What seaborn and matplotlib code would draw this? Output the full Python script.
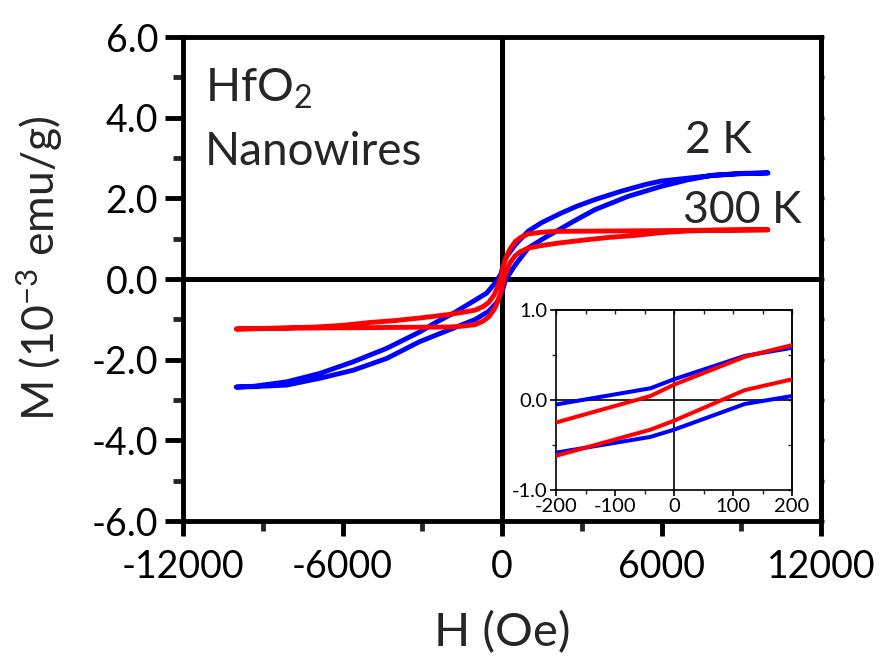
import matplotlib
matplotlib.use("Agg")
import matplotlib.pyplot as plt
import seaborn as sns
import pandas as pd
from matplotlib.ticker import MultipleLocator, FixedLocator, NullFormatter

# ---------------- data ----------------
# 2 K loop (blue): descending branch, then ascending branch
H_2K_down = [10000, 9000, 8000, 7260, 6000, 5380, 4500, 3500, 2800, 2245, 1500, 990, 500, 200, 120, 0,
             -40, -200, -577, -1000, -1830, -2500, -3085, -4340, -5590, -6850, -8100, -9350, -10000]
M_2K_down = [2.63, 2.61, 2.57, 2.52, 2.43, 2.34, 2.18, 1.97, 1.80, 1.64, 1.40, 1.19, 0.85, 0.58, 0.49, 0.23,
             0.13, -0.05, -0.35, -0.52, -0.85, -1.08, -1.31, -1.72, -2.05, -2.34, -2.55, -2.66, -2.68]
H_2K_up = [-10000, -9350, -8100, -6850, -5590, -4340, -3085, -1830, -1000, -500, -200, -40, 0,
           120, 200, 500, 990, 1600, 2245, 2800, 3500, 4750, 6010, 7000, 7890, 9000, 10000]
M_2K_up = [-2.68, -2.67, -2.63, -2.46, -2.26, -1.97, -1.55, -1.22, -1.00, -0.80, -0.585, -0.41, -0.33,
           -0.044, 0.044, 0.35, 0.77, 1.02, 1.26, 1.47, 1.72, 2.05, 2.30, 2.46, 2.57, 2.62, 2.63]

# 300 K loop (red)
H_300K_down = [10000, 8000, 6000, 4000, 2000, 1500, 1000, 700, 500, 300, 200, 120, 0, -40, -200, -300,
               -500, -700, -1000, -1500, -2000, -3000, -4000, -5000, -6000, -7000, -8000, -10000]
M_300K_down = [1.22, 1.21, 1.20, 1.19, 1.18, 1.16, 1.12, 1.03, 0.93, 0.74, 0.61, 0.48, 0.17, 0.044, -0.25, -0.40,
               -0.58, -0.68, -0.77, -0.83, -0.88, -0.96, -1.03, -1.08, -1.15, -1.19, -1.21, -1.24]
H_300K_up = [-10000, -8000, -6000, -4000, -2000, -1500, -1000, -700, -500, -300, -200, -40, 0, 120, 200, 300,
             500, 700, 1000, 1500, 2000, 3000, 4000, 5000, 6000, 7000, 8000, 10000]
M_300K_up = [-1.24, -1.22, -1.21, -1.20, -1.19, -1.17, -1.13, -1.04, -0.94, -0.76, -0.62, -0.33, -0.23, 0.11, 0.23, 0.40,
             0.58, 0.68, 0.77, 0.83, 0.88, 0.96, 1.03, 1.08, 1.15, 1.19, 1.21, 1.22]

main_xticks = [-12000, -6000, 0, 6000, 12000]
main_yticks = [-6.0, -4.0, -2.0, 0.0, 2.0, 4.0, 6.0]
inset_xticks = [-200, -100, 0, 100, 200]
inset_yticks = [-1.0, 0.0, 1.0]

# ---------------- style ----------------
sns.set_style("ticks")
FONT = "Lato"
plt.rcParams["font.family"] = [FONT, "DejaVu Sans"]
plt.rcParams["mathtext.fontset"] = "custom"
plt.rcParams["mathtext.rm"] = FONT
plt.rcParams["mathtext.it"] = FONT
plt.rcParams["axes.unicode_minus"] = False

loops = [
    (H_2K_down + H_2K_up, M_2K_down + M_2K_up, "#0000ff"),
    (H_300K_down + H_300K_up, M_300K_down + M_300K_up, "#ff0000"),
]

fig = plt.figure(figsize=(8.83, 6.67), dpi=100)
ax = fig.add_axes([183 / 883, 1 - 521 / 667, (821 - 183) / 883, (521 - 37) / 667])

ax.axhline(0, color="black", lw=3.6, zorder=1)
ax.axvline(0, color="black", lw=3.6, zorder=1)
for h, m, c in loops:
    df = pd.DataFrame({"H": h, "M": m})
    sns.lineplot(data=df, x="H", y="M", sort=False, estimator=None, color=c, lw=3.5, ax=ax, zorder=3)

ax.set_xlim(-12000, 12000)
ax.set_ylim(-6, 6)
ax.xaxis.set_major_locator(FixedLocator(main_xticks))
ax.xaxis.set_minor_locator(MultipleLocator(3000))
ax.yaxis.set_major_locator(FixedLocator(main_yticks))
ax.yaxis.set_minor_locator(MultipleLocator(1.0))
ax.set_xticklabels([f"{v:d}" for v in main_xticks])
ax.set_yticklabels([f"{v:.1f}" for v in main_yticks])
for s in ax.spines.values():
    s.set_linewidth(3.5)
    s.set_color("black")
ax.tick_params(axis="both", which="major", length=13, width=3.5, labelsize=27, colors="black")
ax.tick_params(axis="both", which="minor", length=7, width=3.5)
ax.tick_params(axis="x", which="major", length=11, pad=9)
ax.tick_params(axis="y", which="major", pad=5)

# small ticks on the right spine
sec = ax.secondary_yaxis("right")
sec.yaxis.set_major_locator(MultipleLocator(1.0))
sec.yaxis.set_major_formatter(NullFormatter())
sec.tick_params(length=2.5, width=2.5, direction="out")
sec.spines["right"].set_linewidth(3.5)

ax.set_xlabel("H (Oe)", fontsize=34)
ax.set_ylabel("M (10$^{-3}$ emu/g)", fontsize=32)
ax.xaxis.label.set_va("center")
ax.yaxis.label.set_va("center")
ax.xaxis.set_label_coords(0.5, (521 - 633) / 484)
ax.yaxis.set_label_coords((40 - 183) / 638, (521 - 268) / 484)

ax.text(-11170, 4.39, "HfO$_2$", fontsize=33, va="baseline", ha="left")
ax.text(-11170, 2.83, "Nanowires", fontsize=33, va="baseline", ha="left")
ax.text(6885, 3.12, "2 K", fontsize=32, va="baseline", ha="left")
ax.text(6810, 1.39, "300 K", fontsize=32, va="baseline", ha="left")

# ---------------- inset ----------------
ins = fig.add_axes([556 / 883, 1 - 490 / 667, (792 - 556) / 883, (490 - 310) / 667])
ins.axhline(0, color="black", lw=1.2, zorder=1)
ins.axvline(0, color="black", lw=1.2, zorder=1)
for h, m, c in loops:
    df = pd.DataFrame({"H": h, "M": m})
    sns.lineplot(data=df, x="H", y="M", sort=False, estimator=None, color=c, lw=2.9, ax=ins, zorder=3)
ins.set_xlim(-200, 200)
ins.set_ylim(-1.0, 1.0)
ins.xaxis.set_major_locator(FixedLocator(inset_xticks))
ins.xaxis.set_minor_locator(MultipleLocator(50))
ins.yaxis.set_major_locator(FixedLocator(inset_yticks))
ins.yaxis.set_minor_locator(MultipleLocator(0.5))
ins.set_xticklabels([f"{v:d}" for v in inset_xticks])
ins.set_yticklabels([f"{v:.1f}" for v in inset_yticks])
ins.set_xlabel("")
ins.set_ylabel("")
for s in ins.spines.values():
    s.set_linewidth(1.2)
    s.set_color("black")
ins.tick_params(axis="both", which="major", length=4, width=1.2, labelsize=14.5, pad=2, colors="black")
ins.tick_params(axis="both", which="minor", length=3, width=1.0)
for loc in ("top", "right"):
    if loc == "top":
        s2 = ins.secondary_xaxis("top")
        s2.xaxis.set_major_locator(MultipleLocator(50))
        s2.xaxis.set_major_formatter(NullFormatter())
    else:
        s2 = ins.secondary_yaxis("right")
        s2.yaxis.set_major_locator(MultipleLocator(0.5))
        s2.yaxis.set_major_formatter(NullFormatter())
    s2.tick_params(length=3, width=1.0, direction="in")
    s2.spines[loc].set_linewidth(1.2)

fig.savefig("out.png", dpi=100)
